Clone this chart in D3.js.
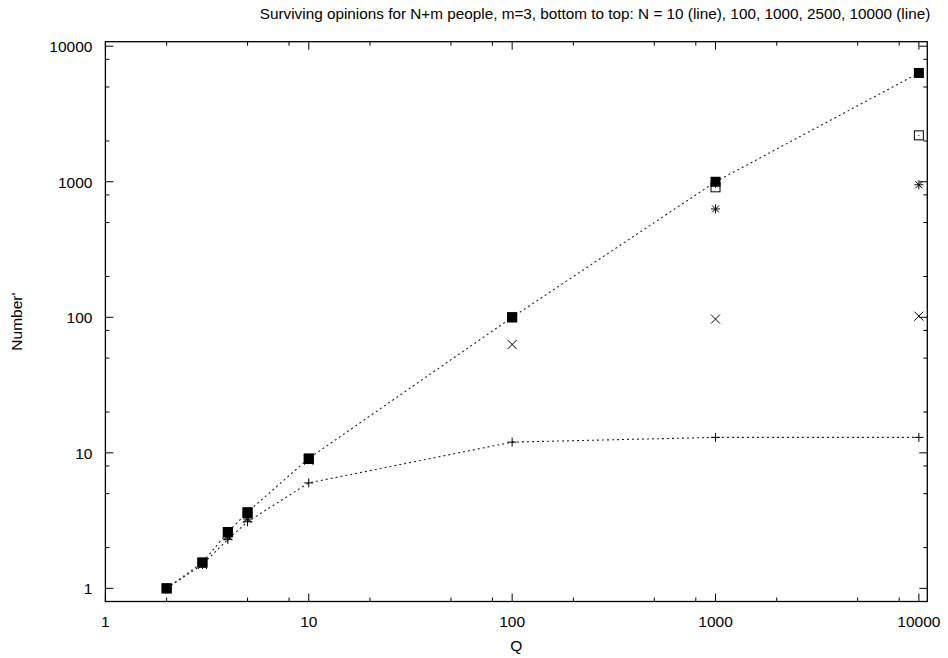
<!DOCTYPE html>
<html>
<head>
<meta charset="utf-8">
<script src="https://cdn.jsdelivr.net/npm/d3@7"></script>
<style>
  html, body { margin: 0; padding: 0; background: #fff; }
  svg { display: block; font-family: "Liberation Sans", Arial, sans-serif; }
</style>
</head>
<body>
<svg id="chart" width="948" height="658"></svg>
<script>
// ---- data ----
const qValues = [2, 3, 4, 5, 10, 100, 1000, 10000];
const seriesN10    = [1, 1.5, 2.3, 3.1, 6, 12, 13, 13];
const seriesN100   = [1, 1.5, 2.45, 3.3, 8.8, 63, 97, 102];
const seriesN1000  = [1, 1.55, 2.4, 3.25, 9, 100, 630, 950];
const seriesN2500  = [1, 1.55, 2.6, 3.6, 9, 100, 910, 2200];
const seriesN10000 = [1, 1.55, 2.6, 3.65, 9.1, 100, 1000, 6350];
const majorTicks = [1, 10, 100, 1000, 10000];
const minorMults = [2, 5, 8];
const titleText = "Surviving opinions for N+m people, m=3, bottom to top: N = 10 (line), 100, 1000, 2500, 10000 (line)";
const xLabel = "Q";
const yLabel = "Number'";

const series = [
  { name: "N=10",    values: seriesN10,    marker: "plus",    line: true },
  { name: "N=100",   values: seriesN100,   marker: "cross",   line: false },
  { name: "N=1000",  values: seriesN1000,  marker: "star",    line: false },
  { name: "N=2500",  values: seriesN2500,  marker: "box",     line: false },
  { name: "N=10000", values: seriesN10000, marker: "boxfill", line: true }
];

const svg = d3.select("#chart");
const L = 105.4, R = 927.3, T = 41.7, B = 601.5;

const x = d3.scaleLog().domain([1, 11000]).range([L, R]);
const y = d3.scaleLog().domain([0.8, 10800]).range([B, T]);

// minor ticks list
const minorVals = [];
majorTicks.forEach(m => minorMults.forEach(k => minorVals.push(m * k)));

const g = svg.append("g");

// frame
g.append("rect").attr("x", L).attr("y", T).attr("width", R - L).attr("height", B - T)
  .attr("fill", "none").attr("stroke", "#000").attr("stroke-width", 1.3);

const majLen = 8, minLen = 4;
const xMin = minorVals.filter(v => v > 1 && v < 11000);
const yMin = minorVals.filter(v => v > 0.8 && v < 10800);

// x ticks (bottom & top)
majorTicks.forEach(v => {
  g.append("line").attr("x1", x(v)).attr("x2", x(v)).attr("y1", B).attr("y2", B - majLen).attr("stroke", "#000");
  g.append("line").attr("x1", x(v)).attr("x2", x(v)).attr("y1", T).attr("y2", T + majLen).attr("stroke", "#000");
});
xMin.forEach(v => {
  g.append("line").attr("x1", x(v)).attr("x2", x(v)).attr("y1", B).attr("y2", B - minLen).attr("stroke", "#000");
  g.append("line").attr("x1", x(v)).attr("x2", x(v)).attr("y1", T).attr("y2", T + minLen).attr("stroke", "#000");
});
// y ticks (left & right)
majorTicks.forEach(v => {
  g.append("line").attr("y1", y(v)).attr("y2", y(v)).attr("x1", L).attr("x2", L + majLen).attr("stroke", "#000");
  g.append("line").attr("y1", y(v)).attr("y2", y(v)).attr("x1", R).attr("x2", R - majLen).attr("stroke", "#000");
});
yMin.forEach(v => {
  g.append("line").attr("y1", y(v)).attr("y2", y(v)).attr("x1", L).attr("x2", L + minLen).attr("stroke", "#000");
  g.append("line").attr("y1", y(v)).attr("y2", y(v)).attr("x1", R).attr("x2", R - minLen).attr("stroke", "#000");
});

// tick labels
const fs = 15.5;
majorTicks.forEach(v => {
  g.append("text").attr("x", x(v)).attr("y", B + 25).attr("text-anchor", "middle")
    .attr("font-size", fs).attr("fill", "#000").text(String(v));
  g.append("text").attr("x", L - 13).attr("y", y(v) + 6).attr("text-anchor", "end")
    .attr("font-size", fs).attr("fill", "#000").text(String(v));
});

// axis labels & title
g.append("text").attr("x", (L + R) / 2).attr("y", 651).attr("text-anchor", "middle")
  .attr("font-size", fs).text(xLabel);
g.append("text").attr("transform", `translate(22,${(T + B) / 2}) rotate(-90)`)
  .attr("text-anchor", "middle").attr("font-size", fs).text(yLabel);
g.append("text").attr("x", 595).attr("y", 19).attr("text-anchor", "middle")
  .attr("font-size", 15.3).text(titleText);

// lines
const lineGen = d3.line().x(d => x(d[0])).y(d => y(d[1]));
series.filter(s => s.line).forEach(s => {
  g.append("path").datum(qValues.map((q, i) => [q, s.values[i]]))
    .attr("d", lineGen).attr("fill", "none").attr("stroke", "#222")
    .attr("stroke-width", 1.1).attr("stroke-dasharray", "2,3");
});

// markers
function drawMarker(sel, type, cx, cy) {
  const s = 4.5;
  if (type === "plus" || type === "star") {
    sel.append("line").attr("x1", cx - s).attr("x2", cx + s).attr("y1", cy).attr("y2", cy).attr("stroke", "#000");
    sel.append("line").attr("x1", cx).attr("x2", cx).attr("y1", cy - s).attr("y2", cy + s).attr("stroke", "#000");
  }
  if (type === "cross" || type === "star") {
    const c = type === "star" ? 3.5 : 4.5;
    sel.append("line").attr("x1", cx - c).attr("x2", cx + c).attr("y1", cy - c).attr("y2", cy + c).attr("stroke", "#000");
    sel.append("line").attr("x1", cx - c).attr("x2", cx + c).attr("y1", cy + c).attr("y2", cy - c).attr("stroke", "#000");
  }
  if (type === "box") {
    sel.append("rect").attr("x", cx - 4.5).attr("y", cy - 4.5).attr("width", 9).attr("height", 9)
      .attr("fill", "none").attr("stroke", "#000");
    sel.append("rect").attr("x", cx - 0.5).attr("y", cy - 0.5).attr("width", 1).attr("height", 1).attr("fill", "#000");
  }
  if (type === "boxfill") {
    sel.append("rect").attr("x", cx - 5).attr("y", cy - 5).attr("width", 10).attr("height", 10)
      .attr("fill", "#000");
  }
}
series.forEach(s => {
  const mg = g.append("g").attr("class", "series");
  qValues.forEach((q, i) => drawMarker(mg, s.marker, x(q), y(s.values[i])));
});
</script>
</body>
</html>
